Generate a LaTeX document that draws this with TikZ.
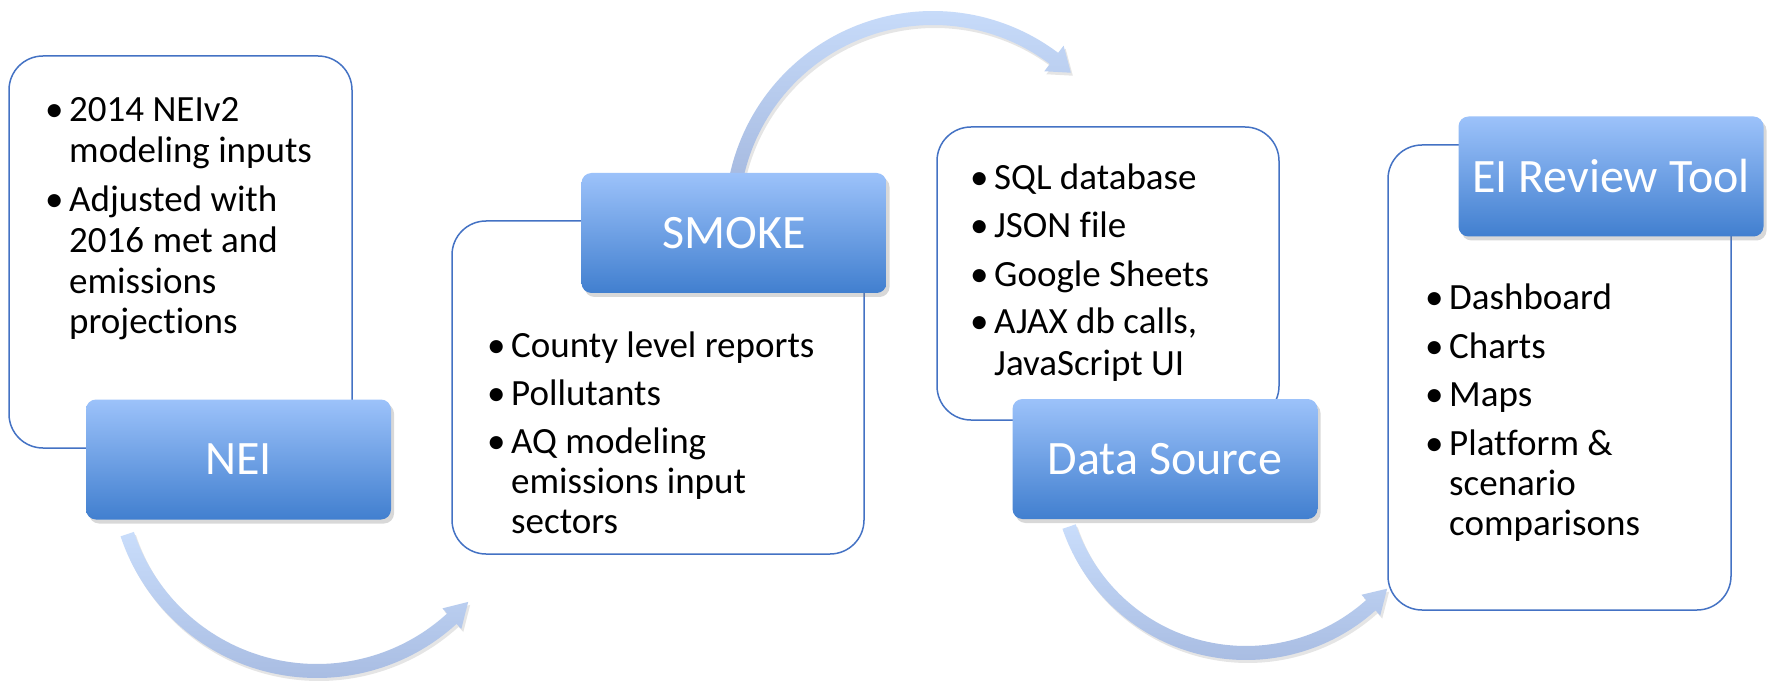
\documentclass[tikz,border=0pt]{standalone}
\usepackage{fontspec}
\setmainfont{Carlito}[Ligatures=NoCommon]
\usetikzlibrary{calc,shadows}

\definecolor{boxline}{RGB}{68,114,196}
\definecolor{headtop}{RGB}{156,194,250}
\definecolor{headbot}{RGB}{65,127,207}
\definecolor{arrowtop}{RGB}{201,221,251}
\definecolor{arrowbot}{RGB}{167,187,225}

\newcommand{\bulmark}{\makebox[24pt][l]{\textbullet}}
\newcommand{\bulgap}{\hspace*{24pt}}

\tikzset{
  panel/.style={draw=boxline, line width=1.5pt, fill=white, rounded corners=34pt, inner sep=0pt},
  header/.style={rounded corners=10pt, top color=headtop, bottom color=headbot,
    minimum width=305pt, minimum height=120pt, inner sep=0pt, text=white,
    font=\fontsize{48}{56}\selectfont,
    drop shadow={opacity=0.3, shadow xshift=3pt, shadow yshift=-4pt}},
  bullets/.style={anchor=base west, inner sep=0pt, font=\fontsize{37}{41}\selectfont},
  bigarrow/.style={top color=arrowtop, bottom color=arrowbot,
    drop shadow={opacity=0.2, shadow xshift=2pt, shadow yshift=-3pt}}
}

\begin{document}
\begin{tikzpicture}[x=1pt,y=1pt]
  \fill[white] (0,0) rectangle (1771,681);
  \useasboundingbox (0,0) rectangle (1771,681);

  % Arrows
  \coordinate (bend1) at (317,210);
  \coordinate (bend2) at (933,462);
  \coordinate (bend3) at (1246,215);
  \foreach \cen/\rad/\sa/\ea/\ta/\hw in {bend1/200/198.4/312.4/319.1/14,
      bend2/201/167.3/53/46.7/16, bend3/187/198.9/311.9/319/14} {
    \pgfmathsetmacro{\rout}{\rad+7}
    \pgfmathsetmacro{\rin}{\rad-7}
    \pgfmathsetmacro{\hout}{\rad+\hw}
    \pgfmathsetmacro{\hin}{\rad-\hw}
    \path[bigarrow] ($(\cen)+(\sa:\rout)$) arc[start angle=\sa, end angle=\ea, radius=\rout]
      -- ($(\cen)+(\ea:\hout)$) -- ($(\cen)+(\ta:\rad)$) -- ($(\cen)+(\ea:\hin)$)
      -- ($(\cen)+(\ea:\rin)$) arc[start angle=\ea, end angle=\sa, radius=\rin] -- cycle;
  }

  % Panels
  \node[panel, minimum width=343pt, minimum height=392pt] (neibox) at (180.5,429) {};
  \node[panel, minimum width=412pt, minimum height=333pt] (smokebox) at (658,293.5) {};
  \node[panel, minimum width=342pt, minimum height=293pt] (databox) at (1108,407.5) {};
  \node[panel, minimum width=343pt, minimum height=465pt] (eibox) at (1559.5,303.5) {};

  % NEI
  \foreach \y/\val [count=\k] in {559/\bulmark 2014 NEIv2, 518/\bulgap modeling inputs,
      469/\bulmark Adjusted with, 428/\bulgap 2016 met and, 388/\bulgap emissions,
      348/\bulgap projections}
    \node[bullets] (nei\k) at (45,\y) {\val};

  % SMOKE
  \foreach \y/\val [count=\k] in {324/\bulmark County level reports, 276/\bulmark Pollutants,
      228/\bulmark AQ modeling, 188/\bulgap emissions input, 148/\bulgap sectors}
    \node[bullets] (smoke\k) at (487,\y) {\val};

  % Data Source
  \foreach \y/\val [count=\k] in {491/\bulmark SQL database, 443/\bulmark JSON file,
      395/\bulmark Google Sheets, 348/{\bulmark AJAX db calls,}, 306/\bulgap JavaScript UI}
    \node[bullets] (data\k) at (970,\y) {\val};

  % EI Review Tool
  \foreach \y/\val [count=\k] in {371/\bulmark Dashboard, 323/\bulmark Charts,
      275/\bulmark Maps, 226/\bulmark Platform \&, 186/\bulgap scenario,
      146/\bulgap comparisons}
    \node[bullets] (ei\k) at (1425,\y) {\val};

  % Headers
  \node[header] (nei) at (238.5,221.5) {NEI};
  \node[header] (smoke) at (734,448) {SMOKE};
  \node[header] (datasrc) at (1165,222) {Data Source};
  \node[header] (eitool) at (1611,504.5) {EI Review Tool};
\end{tikzpicture}
\end{document}
